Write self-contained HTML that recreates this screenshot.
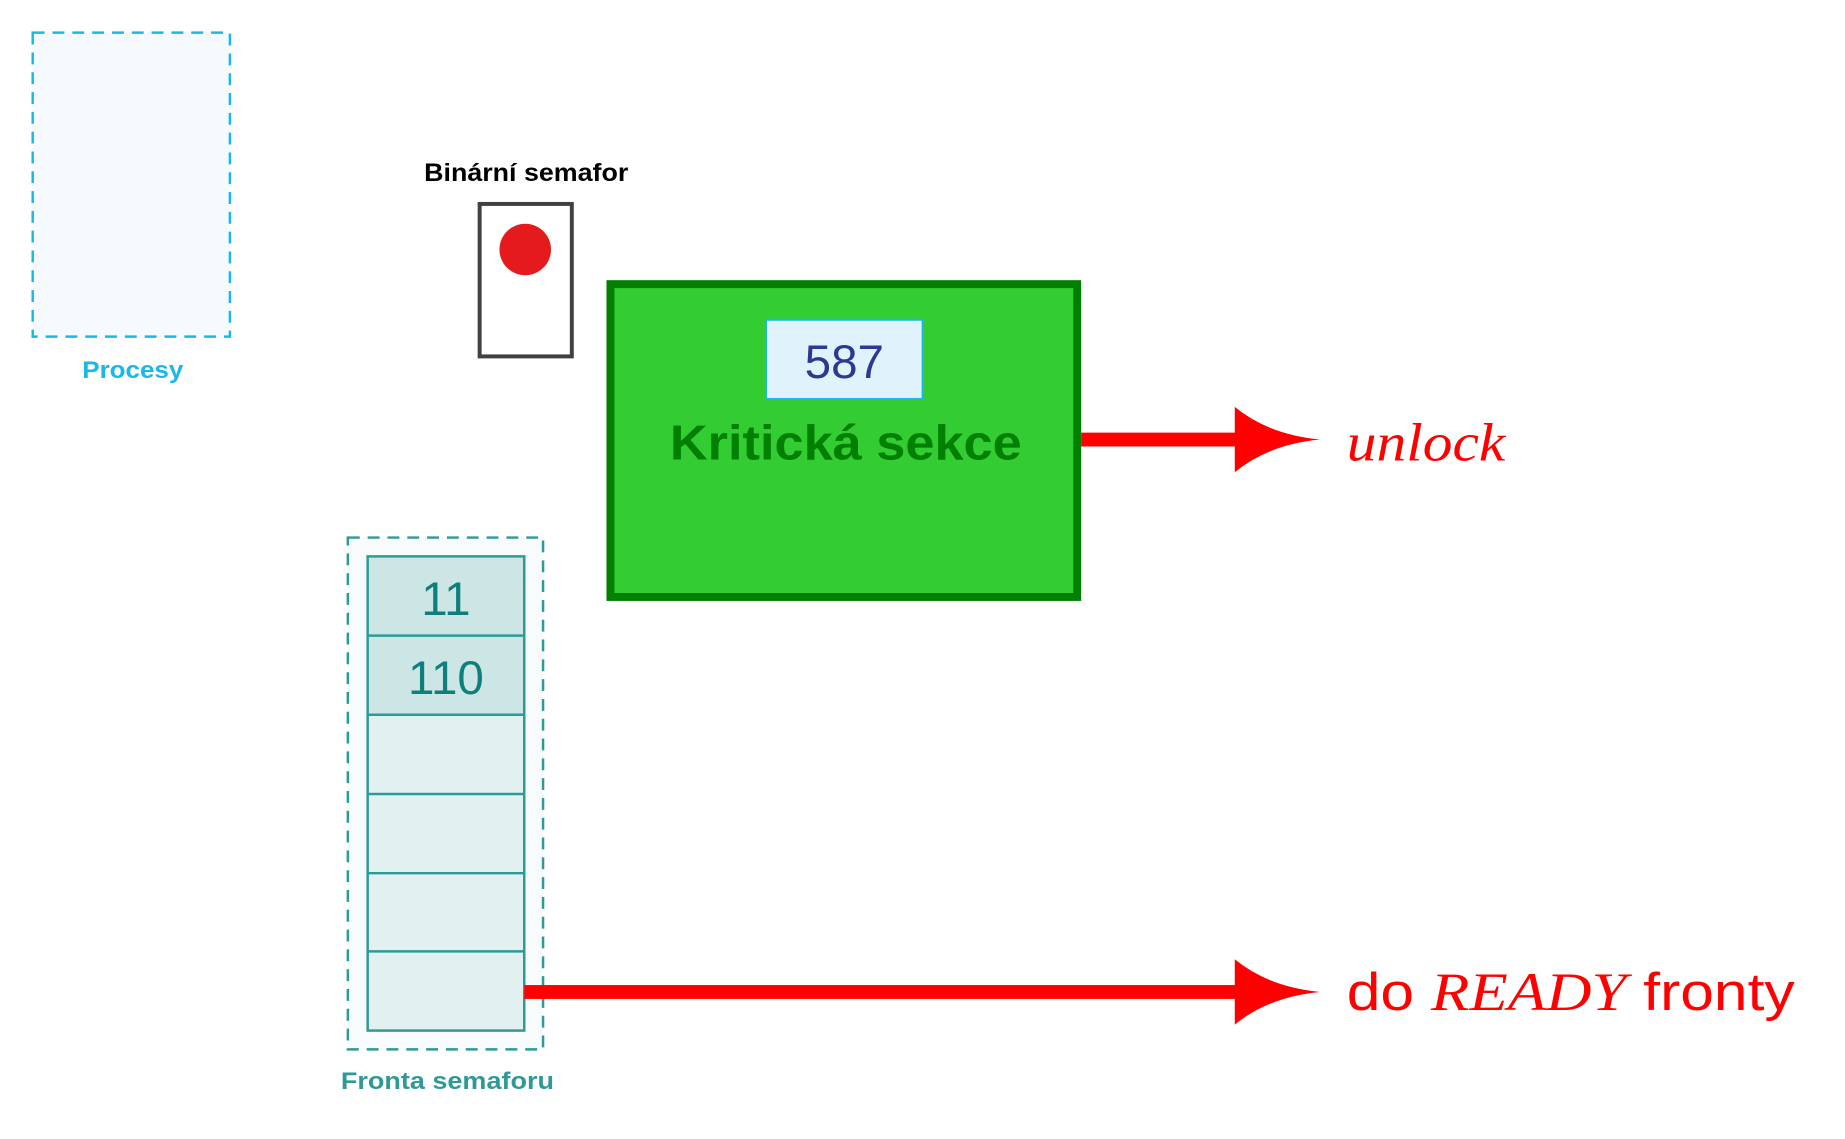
<!DOCTYPE html>
<html><head><meta charset="utf-8"><style>html,body{margin:0;padding:0;background:#fff}svg{display:block}</style></head>
<body>
<svg width="1845" height="1139" viewBox="0 0 1845 1139" xmlns="http://www.w3.org/2000/svg">
<g transform="scale(0.991 0.99)">
<rect x="33" y="33" width="199" height="307" fill="#f5faff" stroke="#1ab8ea" stroke-width="2.5" stroke-dasharray="12,8"/>
<text x="83" y="382" textLength="102" lengthAdjust="spacingAndGlyphs" font-family="Liberation Sans, sans-serif" font-weight="bold" font-size="24" fill="#1ab8ea">Procesy</text>
<text x="428" y="183" textLength="206" lengthAdjust="spacingAndGlyphs" font-family="Liberation Sans, sans-serif" font-weight="bold" font-size="25" fill="#000">Binární semafor</text>
<rect x="484" y="206" width="93" height="154" fill="#fff" stroke="#404040" stroke-width="4"/>
<circle cx="530" cy="252" r="26" fill="#e41a1c"/>
<rect x="616" y="287" width="471" height="316" fill="#33cc33" stroke="#007f00" stroke-width="8"/>
<rect x="773" y="323" width="158" height="80" fill="#e0f2fb" stroke="#1ab8ea" stroke-width="2"/>
<text x="852" y="382" text-anchor="middle" font-family="Liberation Sans, sans-serif" font-size="48" fill="#2b3990">587</text>
<text x="676" y="464" textLength="355" lengthAdjust="spacingAndGlyphs" font-family="Liberation Sans, sans-serif" font-weight="bold" font-size="50" fill="#007f00">Kritická sekce</text>
<rect x="1091" y="437" width="160" height="14" fill="#ff0000"/>
<path d="M1246,411 Q1280,439 1332,444 Q1280,449 1246,477 Z" fill="#ff0000"/>
<text x="1359" y="465" textLength="160" lengthAdjust="spacingAndGlyphs" font-family="Liberation Serif, serif" font-style="italic" font-size="54" fill="#ff0000">unlock</text>
<rect x="351" y="543" width="197" height="517" fill="#f7fbfb" stroke="#2e9a98" stroke-width="2.5" stroke-dasharray="12,8"/>
<rect x="371" y="562" width="158" height="160" fill="#cce6e5" stroke="#2e9a98" stroke-width="2.5"/>
<rect x="371" y="722" width="158" height="319" fill="#e2f1f0" stroke="#2e9a98" stroke-width="2.5"/>
<g stroke="#2e9a98" stroke-width="2.5"><line x1="371" y1="642" x2="529" y2="642"/><line x1="371" y1="802" x2="529" y2="802"/><line x1="371" y1="882" x2="529" y2="882"/><line x1="371" y1="961" x2="529" y2="961"/></g>
<text x="450" y="621" text-anchor="middle" font-family="Liberation Sans, sans-serif" font-size="48" fill="#0e7f7c">11</text>
<text x="450" y="701" text-anchor="middle" font-family="Liberation Sans, sans-serif" font-size="48" fill="#0e7f7c">110</text>
<text x="344" y="1100" textLength="215" lengthAdjust="spacingAndGlyphs" font-family="Liberation Sans, sans-serif" font-weight="bold" font-size="24" fill="#2e9a98">Fronta semaforu</text>
<rect x="529" y="995" width="722" height="14" fill="#ff0000"/>
<path d="M1246,969 Q1280,997 1332,1002 Q1280,1007 1246,1035 Z" fill="#ff0000"/>
<text x="1359" y="1020" textLength="452" lengthAdjust="spacingAndGlyphs" font-family="Liberation Sans, sans-serif" font-size="53" fill="#ff0000">do <tspan font-family="Liberation Serif, serif" font-style="italic" font-size="55">READY</tspan> fronty</text>
</g>
</svg>
</body></html>
